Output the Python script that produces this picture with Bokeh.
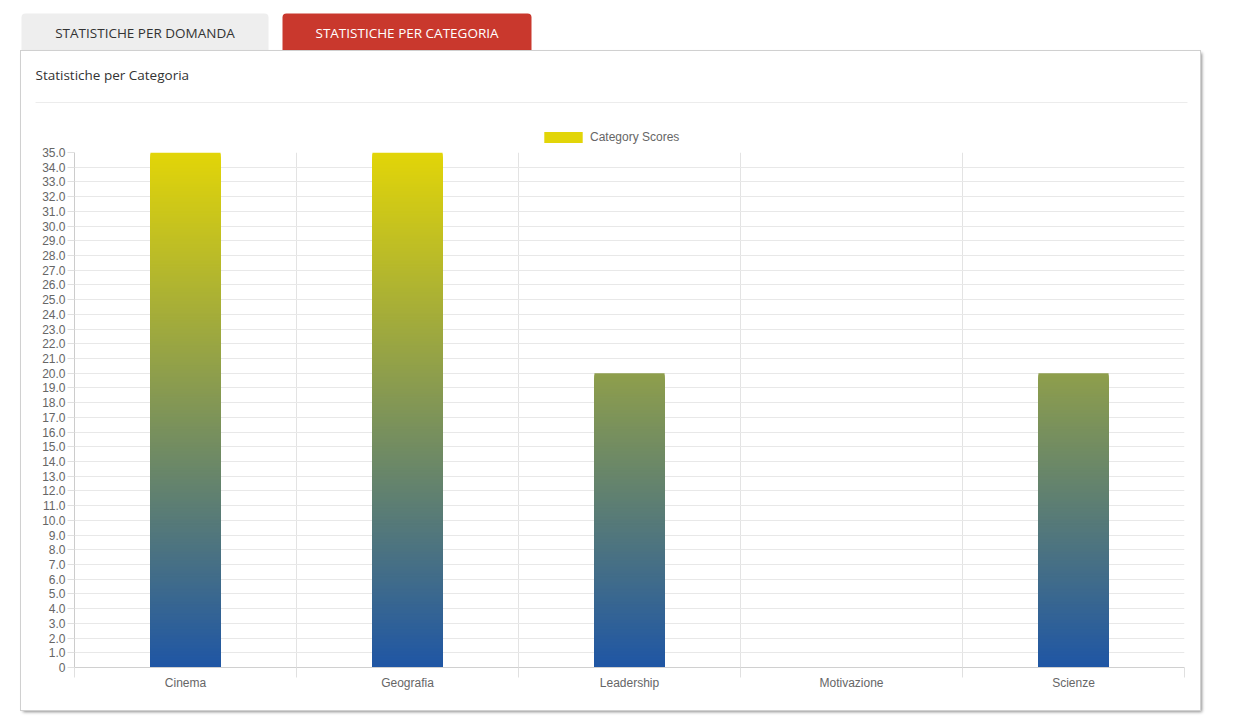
from bokeh.plotting import figure
from bokeh.layouts import column, row
from bokeh.models import (Range1d, FixedTicker, BoxAnnotation, Legend,
                          LegendItem, ColumnDataSource, Spacer)
from bokeh.core.properties import value
from bokeh.embed import file_html
from bokeh.resources import INLINE

# ---- data ----
categories = ["Cinema", "Geografia", "Leadership", "Motivazione", "Scienze"]
scores = [35, 35, 20, 0, 20]
series_name = "Category Scores"
y_ticks = list(range(0, 36))
y_tick_labels = ["0"] + [f"{t:.1f}" for t in y_ticks[1:]]
tab_labels = ["STATISTICHE PER DOMANDA", "STATISTICHE PER CATEGORIA"]
panel_title = "Statistiche per Categoria"

Y_MAX = 35
N = len(categories)
BLUE = (31, 86, 165)
YELLOW = (226, 213, 8)
LABEL_FONT = "Liberation Sans"


def grad(f):
    f = max(0.0, min(1.0, f))
    r, g, b = (int(round(BLUE[j] + (YELLOW[j] - BLUE[j]) * f)) for j in range(3))
    return f"#{r:02x}{g:02x}{b:02x}"


def blank(width, height, x0, x1, y0, y1):
    f = figure(width=width, height=height, x_range=Range1d(x0, x1),
               y_range=Range1d(y0, y1), output_backend="svg",
               toolbar_location=None, x_axis_location=None,
               y_axis_location=None, min_border=0)
    f.grid.visible = False
    f.outline_line_color = None
    f.background_fill_color = "white"
    f.border_fill_color = "white"
    return f


# ---- tabs strip (page pixel coordinates) ----
tabs = blank(1230, 51, 0, 1230, 51, 0)
tabs.add_layout(BoxAnnotation(left=21, right=268, top=13, bottom=51,
                              fill_color="#eeeeee", fill_alpha=1, line_color=None,
                              border_radius=(4, 4, 0, 0), level="image"))
tabs.add_layout(BoxAnnotation(left=282, right=531, top=13, bottom=51,
                              fill_color="#c9382d", fill_alpha=1, line_color=None,
                              border_radius=(4, 4, 0, 0), level="image"))
tabs.text(x=[144.5, 406.5], y=[32.5, 32.5], text=tab_labels,
          text_color=["#333333", "#ffffff"], text_align="center",
          text_baseline="middle", text_font=value("Open Sans"),
          text_font_size="13.5px")

# ---- panel header: title, separator, legend ----
header = blank(1179, 94, 21, 1200, 145, 51)
header.text(x=[35], y=[74], text=[panel_title], text_color="#333333",
            text_align="left", text_baseline="middle",
            text_font=value("Open Sans"), text_font_size="13.5px")
header.segment(x0=[35], y0=[102], x1=[1187], y1=[102], line_color="#ececec",
               line_width=1)
# zero-size bar that only lends its colour to the legend swatch
dummy = header.vbar(x=[21], top=[145], bottom=[145], width=0,
                    fill_color=grad(1.0), line_color=None)
legend = Legend(items=[LegendItem(label=series_name, renderers=[dummy])],
                location=(518, 1), glyph_width=48, glyph_height=14,
                label_standoff=3, padding=0, margin=0, spacing=0,
                border_line_color=None, background_fill_alpha=0,
                label_text_font=LABEL_FONT, label_text_font_size="12px",
                label_text_color="#666666", label_height=14)
header.add_layout(legend, "center")

# ---- chart ----
p = figure(width=1179, height=565,
           x_range=Range1d(0, N), y_range=Range1d(0, Y_MAX),
           output_backend="svg", toolbar_location=None,
           min_border_left=53, min_border_right=16,
           min_border_top=7, min_border_bottom=43)
p.outline_line_color = None
p.background_fill_color = "white"
p.border_fill_color = "white"

xa = p.xaxis[0]
xa.ticker = FixedTicker(ticks=[i + 0.5 for i in range(N)],
                        minor_ticks=list(range(N + 1)))
xa.major_label_overrides = {i + 0.5: c for i, c in enumerate(categories)}
xa.major_tick_line_color = None
xa.minor_tick_in = 0
xa.minor_tick_out = 10
xa.minor_tick_line_color = "#e0e0e0"
xa.axis_line_color = "#d0d0d0"
xa.major_label_standoff = -2
xa.major_label_text_font = LABEL_FONT
xa.major_label_text_font_size = "12px"
xa.major_label_text_color = "#666666"

ya = p.yaxis[0]
ya.ticker = FixedTicker(ticks=y_ticks, minor_ticks=[])
ya.major_label_overrides = {t: lab for t, lab in zip(y_ticks, y_tick_labels)}
ya.major_tick_in = 0
ya.major_tick_out = 7
ya.major_tick_line_color = "#e0e0e0"
ya.axis_line_color = "#cccccc"
ya.major_label_standoff = 2
ya.major_label_text_font = LABEL_FONT
ya.major_label_text_font_size = "12px"
ya.major_label_text_color = "#666666"

p.xgrid.ticker = FixedTicker(ticks=list(range(N + 1)))
p.xgrid.grid_line_color = "#e3e3e3"
p.ygrid.ticker = FixedTicker(ticks=y_ticks)
p.ygrid.grid_line_color = "#e8e8e8"

# gradient bars: stacked slices, each coloured by its height
step = 0.1
xs, tops, colors = [], [], []
for i, v in enumerate(scores):
    n_steps = int(round(v / step))
    for k in range(n_steps, 0, -1):
        top = k * step
        xs.append(i + 0.5)
        tops.append(top)
        colors.append(grad((top - step / 2) / Y_MAX))
src = ColumnDataSource(dict(x=xs, top=tops, color=colors))
p.vbar(x="x", top="top", bottom=0, width=0.316, fill_color="color",
       line_color=None, source=src)

panel = column(row(header, spacing=0), row(p, spacing=0), spacing=0,
               styles={"box-shadow": "0 0 0 1px #d0d0d0, 2px 2px 3px 0px rgba(0,0,0,0.45)"})
root = column(tabs, row(Spacer(width=21, height=10), panel, spacing=0), spacing=0)

open("out.html", "w").write(file_html(root, INLINE, title="Statistiche per Categoria"))
